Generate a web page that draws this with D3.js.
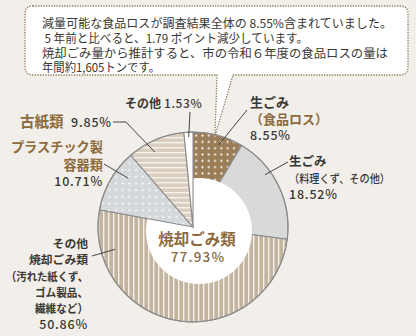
<!DOCTYPE html>
<html><head><meta charset="utf-8">
<script src="https://cdn.jsdelivr.net/npm/d3@7"></script>
<style>
html,body{margin:0;padding:0;background:#f2efea;}
svg{display:block;}
text{font-family:"Noto Sans CJK JP","Noto Sans",sans-serif;}
</style></head>
<body>
<svg id="chart" width="416" height="336"></svg>
<script>
// ---- data ----
const categories = ["生ごみ（食品ロス）", "生ごみ（料理くず、その他）", "その他焼却ごみ類", "プラスチック製容器類", "古紙類", "その他"];
const values = [8.55, 18.52, 50.86, 10.71, 9.85, 1.53];
const incinerated = [true, true, true, false, false, false];
const groupLabel = "焼却ごみ類";
const groupValue = 77.93;
const calloutLines = [
  "減量可能な食品ロスが調査結果全体の 8.55%含まれていました。",
  " 5 年前と比べると、1.79 ポイント減少しています。",
  "焼却ごみ量から推計すると、市の令和６年度の食品ロスの量は",
  "年間約1,605トンです。"
];

// ---- layout / style ----
const svg = d3.select("#chart");
const cx = 193, cy = 227, R = 95;
const fills = ["url(#pBrownDots)", "#d8d9d9", "url(#pVStripes)", "url(#pGrayDots)", "url(#pHStripes)", "#ffffff"];
const brown = "#8c6a3c", dark = "#3a3835";

const defs = svg.append("defs");
function dotPattern(id, bg, size, r) {
  const p = defs.append("pattern").attr("id", id).attr("patternUnits", "userSpaceOnUse")
    .attr("width", size).attr("height", size);
  p.append("rect").attr("width", size).attr("height", size).attr("fill", bg);
  p.append("circle").attr("cx", size / 2).attr("cy", size / 2).attr("r", r).attr("fill", "#fff");
}
dotPattern("pBrownDots", "#9b7e57", 6.3, 1.05);
dotPattern("pGrayDots", "#d5d8da", 6.7, 1.05);
(function () {
  const p = defs.append("pattern").attr("id", "pVStripes").attr("patternUnits", "userSpaceOnUse").attr("width", 5).attr("height", 5);
  p.append("rect").attr("width", 5).attr("height", 5).attr("fill", "#c3b4a0");
  p.append("rect").attr("x", 0).attr("width", 1.4).attr("height", 5).attr("fill", "#f4efe8");
  const q = defs.append("pattern").attr("id", "pHStripes").attr("patternUnits", "userSpaceOnUse").attr("width", 5).attr("height", 5);
  q.append("rect").attr("width", 5).attr("height", 5).attr("fill", "#d9cebf");
  q.append("rect").attr("y", 0).attr("width", 5).attr("height", 1.4).attr("fill", "#f6f2ec");
})();

const pie = d3.pie().sort(null).value(d => d)(values);
const arc = d3.arc().innerRadius(0).outerRadius(R);
const g = svg.append("g").attr("transform", `translate(${cx},${cy})`);

// incinerated slices first
g.selectAll("path.inc").data(pie.filter((d, i) => incinerated[i])).join("path")
  .attr("class", "inc").attr("d", arc).attr("fill", d => fills[d.index])
  .attr("stroke", "#8c8c8c").attr("stroke-width", 1.1);
// hole for the incinerated group
g.append("circle").attr("cx", 6).attr("cy", 4).attr("r", 53).attr("fill", "#fff");
// other slices
g.selectAll("path.oth").data(pie.filter((d, i) => !incinerated[i])).join("path")
  .attr("class", "oth").attr("d", arc).attr("fill", d => fills[d.index])
  .attr("stroke", "#8c8c8c").attr("stroke-width", 1.1);
// outer rim
g.append("circle").attr("r", R).attr("fill", "none").attr("stroke", "#8c8c8c").attr("stroke-width", 1.1);

// center label
g.append("text").attr("x", 4).attr("y", 18).attr("text-anchor", "middle")
  .attr("font-size", 15.5).attr("font-weight", 700).attr("fill", brown).text(groupLabel);
g.append("text").attr("x", 5).attr("y", 35).attr("text-anchor", "middle")
  .attr("font-size", 13.5).attr("font-weight", 500).attr("fill", brown).attr("letter-spacing", 1.2)
  .text(d3.format(".2f")(groupValue) + "%");

// ---- callout box ----
const box = svg.append("g");
const bx0 = 25, by0 = 6, bx1 = 408, by1 = 75, rr = 8;
const tailL = 217, tailR = 233, tipX = 215, tipY = 136;
const boxPath = `M${bx0 + rr},${by0} H${bx1 - rr} Q${bx1},${by0} ${bx1},${by0 + rr} V${by1 - rr} Q${bx1},${by1} ${bx1 - rr},${by1}
 H${tailR} L${tipX},${tipY} L${tailL},${by1} H${bx0 + rr} Q${bx0},${by1} ${bx0},${by1 - rr} V${by0 + rr} Q${bx0},${by0} ${bx0 + rr},${by0} Z`;
box.append("path").attr("d", boxPath).attr("fill", "#fff").attr("stroke", "#8f7a5a")
  .attr("stroke-width", 1.3).attr("stroke-dasharray", "1.3 1.3");
const lineW = [350, 266, 346, 118];
const lineX = [42, 42, 42, 42];
box.selectAll("text").data(calloutLines).join("text")
  .attr("x", (d, i) => lineX[i]).attr("y", (d, i) => 28 + i * 14.8)
  .attr("font-size", 12).attr("fill", dark)
  .attr("textLength", (d, i) => lineW[i]).attr("lengthAdjust", "spacingAndGlyphs")
  .attr("xml:space", "preserve").style("white-space", "pre")
  .text(d => d);

// ---- outside labels ----
const rad = a => a * Math.PI / 180;
function pt(angDeg, r) { return [cx + r * Math.sin(rad(angDeg)), cy - r * Math.cos(rad(angDeg))]; }
const mid = d => (d.startAngle + d.endAngle) / 2 * 180 / Math.PI;
const pct = v => d3.format(".2f")(v) + "%";

const leaders = [
  { i: 0, ang: mid(pie[0]) + 2, r: 86, pts: [[247, 110]] },
  { i: 1, ang: 54, r: 89, pts: [[288, 162]] },
  { i: 2, ang: 254, r: 81, pts: [[92, 256]] },
  { i: 3, ang: 307, r: 81, pts: [[104, 164]] },
  { i: 4, ang: 333, r: 84, pts: [[113, 122], [126, 122]] },
  { i: 5, ang: mid(pie[5]), r: 90, pts: [[190, 112]] }
];
leaders.forEach(l => {
  const end = pt(l.ang, l.r);
  const all = l.pts.concat([end]);
  svg.append("path").attr("d", d3.line()(all)).attr("fill", "none")
    .attr("stroke", "#333").attr("stroke-width", 0.9);
});

function label(x, y, lines, anchor) {
  const t = svg.append("g");
  lines.forEach((ln) => {
    const el = t.append("text").attr("x", x).attr("y", y + (ln.dy || 0)).attr("text-anchor", anchor || "start")
      .attr("font-size", ln.size || 12.5).attr("font-weight", ln.w || 700)
      .attr("fill", ln.c || dark).attr("letter-spacing", ln.ls || 0).text(ln.t);
    if (ln.len) el.attr("textLength", ln.len).attr("lengthAdjust", "spacingAndGlyphs");
  });
}
// 生ごみ（食品ロス）
label(250, 107, [
  { t: "生ごみ", size: 13 },
  { t: "（食品ロス）", dy: 17, size: 13, c: brown, len: 78 },
  { t: pct(values[0]), dy: 33, size: 12.5, w: 500, ls: 0.8 }
]);
// 生ごみ（料理くず、その他）
label(289, 166, [
  { t: "生ごみ", size: 12.5 },
  { t: "（料理くず、その他）", dy: 16.5, size: 11.5, w: 500, len: 101 },
  { t: pct(values[1]), dy: 32.5, size: 12.5, w: 500, ls: 0.8 }
]);
// その他焼却ごみ類
label(88, 248, [
  { t: "その他", size: 11.8 },
  { t: "焼却ごみ類", dy: 16, size: 11.8 },
  { t: "（汚れた紙くず、", dy: 32.5, size: 11.8, len: 82 },
  { t: "ゴム製品、", dy: 48.5, size: 11.8, len: 53 },
  { t: "繊維など）", dy: 64.5, size: 11.8, len: 53 },
  { t: pct(values[2]), dy: 81, size: 12.5, w: 500, ls: 0.8 }
], "end");
// プラスチック製容器類
label(103, 152, [
  { t: "プラスチック製", size: 13.2, c: brown },
  { t: "容器類", dy: 18, size: 13.2, c: brown },
  { t: pct(values[3]), dy: 34, size: 12.5, w: 500, ls: 0.8 }
], "end");
// 古紙類
svg.append("text").attr("x", 20).attr("y", 127).attr("font-size", 14.5).attr("font-weight", 700)
  .attr("fill", brown).text("古紙類");
svg.append("text").attr("x", 71).attr("y", 127).attr("font-size", 12.5).attr("font-weight", 500)
  .attr("fill", dark).attr("letter-spacing", 0.8).text(pct(values[4]));
// その他
svg.append("text").attr("x", 125).attr("y", 108).attr("font-size", 12).attr("font-weight", 700)
  .attr("fill", dark).text("その他");
svg.append("text").attr("x", 164).attr("y", 108).attr("font-size", 12).attr("font-weight", 500)
  .attr("fill", dark).attr("letter-spacing", 0.6).text(pct(values[5]));
</script>
</body></html>
